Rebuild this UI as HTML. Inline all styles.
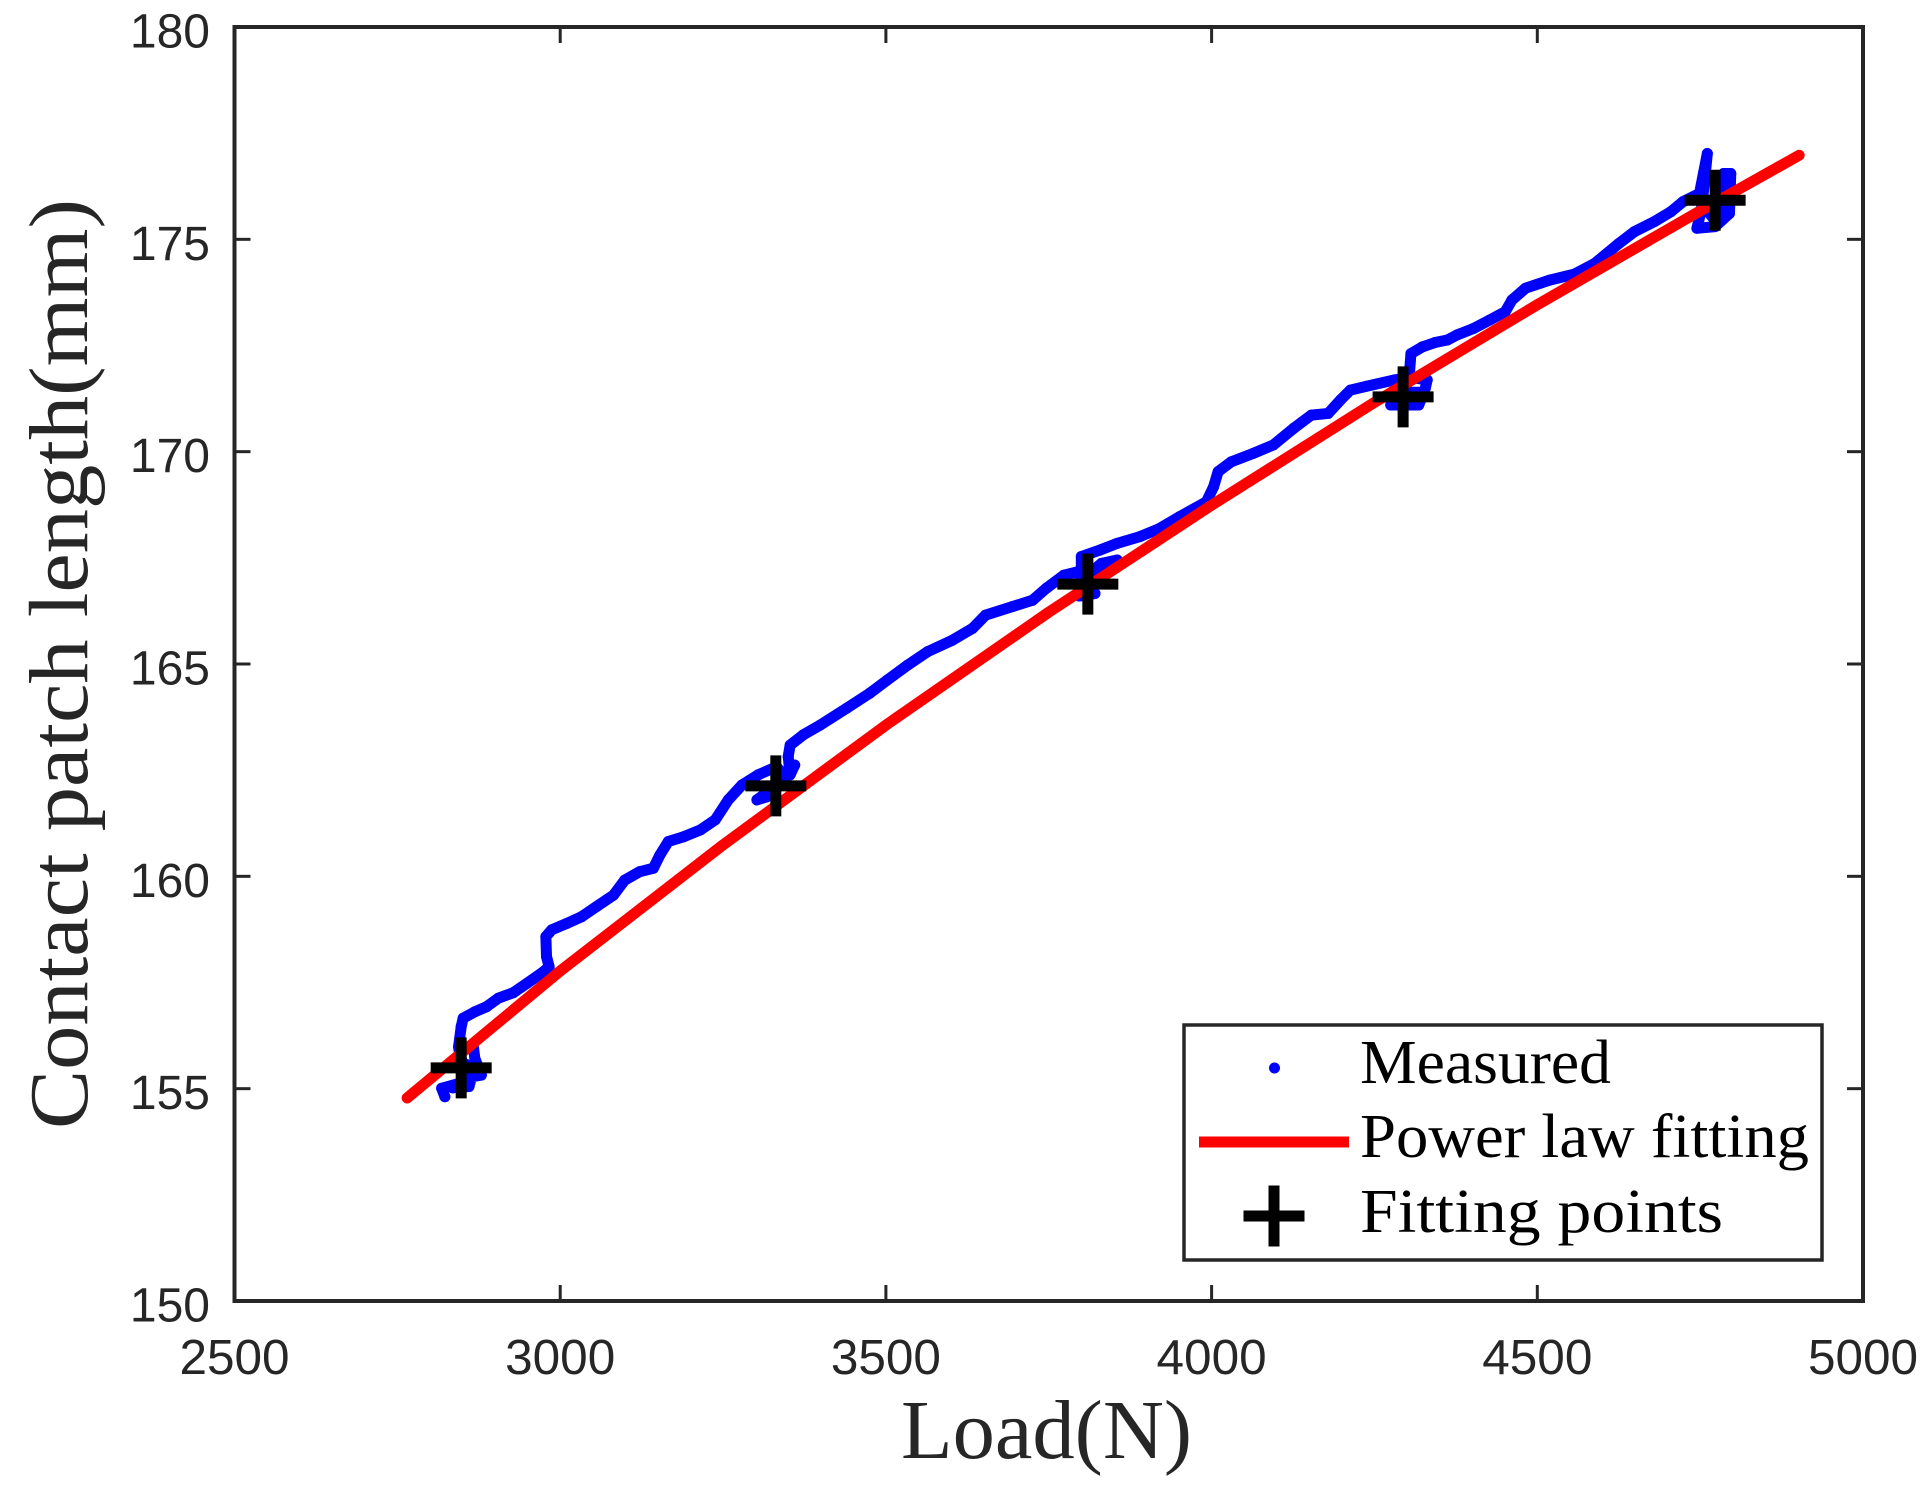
<!DOCTYPE html>
<html lang="en">
<head>
<meta charset="utf-8">
<title>Contact patch length vs load</title>
<style>
html,body{margin:0;padding:0;background:#fff;}
svg{display:block;}
.tick-label{font-family:"Liberation Sans",Arial,sans-serif;font-size:48px;fill:#262626;}
.x-tick-text{font-size:49.5px;}
.axis-title{font-family:"Liberation Serif",serif;font-size:84px;fill:#262626;}
.legend-text{font-family:"Liberation Serif",serif;font-size:62px;fill:#000;}
</style>
</head>
<body>
<svg id="chart" xmlns="http://www.w3.org/2000/svg" width="1932" height="1492" viewBox="0 0 1932 1492">
  <rect x="0" y="0" width="1932" height="1492" fill="#ffffff"/>
  <g id="marks"></g>
  <g id="axes">
    <rect x="234.5" y="27" width="1628.5" height="1274" fill="none" stroke="#262626" stroke-width="4"/>
  </g>
  <text class="axis-title" x="901" y="1458" textLength="291" lengthAdjust="spacingAndGlyphs">Load(N)</text>
  <text class="axis-title" transform="translate(87,1129) rotate(-90)" x="0" y="0" textLength="930" lengthAdjust="spacingAndGlyphs">Contact patch length(mm)</text>
  <g>
    <rect x="1184" y="1025" width="638" height="235" fill="#ffffff" stroke="#262626" stroke-width="3.5"/>
    <circle cx="1274.5" cy="1068" r="5.5" fill="#0000ff"/>
    <text class="legend-text" x="1360" y="1083" textLength="251" lengthAdjust="spacingAndGlyphs">Measured</text>
    <rect x="1199" y="1136.5" width="150" height="11" fill="#ff0000"/>
    <text class="legend-text" x="1360" y="1157" textLength="449" lengthAdjust="spacingAndGlyphs">Power law fitting</text>
    <path d="M1243.5 1216H1304.5M1274 1185.5V1246.5" stroke="#000000" stroke-width="11" fill="none"/>
    <text class="legend-text" x="1360" y="1232" textLength="363" lengthAdjust="spacingAndGlyphs">Fitting points</text>
  </g>
</svg>
<script>
const xTickValues = [2500, 3000, 3500, 4000, 4500, 5000];
const yTickValues = [150, 155, 160, 165, 170, 175, 180];

const measuredLoad = [2823,2818,2844,2835,2860,2864,2879,2869,2867,2844,2850,2870,2850,2844,2848,2851,2869,2887,2905,2928,2949,2974,2983,2979,2978,2987,3010,3033,3056,3082,3099,3122,3143,3153,3166,3189,3215,3238,3258,3279,3304,3332,3345,3320,3302,3317,3340,3360,3353,3350,3353,3373,3399,3440,3475,3502,3533,3564,3602,3633,3653,3694,3725,3746,3773,3794,3821,3797,3810,3831,3855,3831,3800,3800,3828,3855,3890,3920,3951,3992,4003,4010,4030,4064,4095,4126,4153,4179,4198,4213,4238,4281,4305,4331,4328,4318,4275,4285,4325,4290,4303,4306,4324,4343,4362,4377,4402,4427,4451,4461,4482,4519,4557,4588,4625,4649,4680,4705,4724,4749,4755,4761,4757,4752,4745,4773,4795,4797,4786,4782,4770,4749,4790,4790,4775];
const measuredLength = [154.81,155.01,155.12,155.02,155.05,155.28,155.32,155.71,155.95,155.99,155.30,155.50,155.60,155.99,156.46,156.66,156.81,156.93,157.13,157.26,157.48,157.75,157.87,158.11,158.58,158.74,158.89,159.05,159.29,159.56,159.91,160.11,160.19,160.50,160.82,160.93,161.09,161.33,161.80,162.15,162.39,162.58,162.35,162.0,161.80,161.87,162.19,162.62,162.39,162.82,163.09,163.33,163.56,163.96,164.31,164.62,164.97,165.29,165.56,165.84,166.15,166.35,166.50,166.78,167.09,167.17,166.66,166.60,167.1,167.37,167.45,167.20,167.20,167.53,167.68,167.84,168.00,168.19,168.47,168.82,169.17,169.53,169.76,169.96,170.16,170.55,170.86,170.90,171.22,171.45,171.54,171.69,171.75,171.69,171.49,171.10,171.10,171.40,171.40,171.30,171.69,172.31,172.47,172.57,172.63,172.75,172.90,173.10,173.30,173.57,173.85,174.04,174.18,174.43,174.90,175.18,175.42,175.65,175.89,176.08,176.55,177.02,176.40,175.70,175.26,175.30,175.61,176.55,176.55,175.50,175.50,175.90,175.75,176.30,176.30];

const fitLoad = [2765,3000,3250,3500,3750,4000,4250,4500,4750,4902];
const fitLength = [154.78,157.77,160.74,163.56,166.22,168.74,171.16,173.46,175.67,176.98];

const fitPointLoad = [2848,3331,3810,4294,4773];
const fitPointLength = [155.49,162.13,166.88,171.29,175.92];

const SVG_NS = 'http://www.w3.org/2000/svg';
const xDomain = [2500, 5000];
const yDomain = [150, 180];
const plot = {left: 234.5, right: 1863, top: 27, bottom: 1301};

function xScale(v) {
  return plot.left + (v - xDomain[0]) / (xDomain[1] - xDomain[0]) * (plot.right - plot.left);
}
function yScale(v) {
  return plot.bottom - (v - yDomain[0]) / (yDomain[1] - yDomain[0]) * (plot.bottom - plot.top);
}
function make(tag, attrs, parent) {
  const el = document.createElementNS(SVG_NS, tag);
  Object.keys(attrs).forEach(function (k) { el.setAttribute(k, attrs[k]); });
  parent.appendChild(el);
  return el;
}
function polyPoints(xs, ys) {
  return xs.map(function (x, i) { return xScale(x).toFixed(2) + ',' + yScale(ys[i]).toFixed(2); }).join(' ');
}

const marks = document.getElementById('marks');
const axes = document.getElementById('axes');

const measuredTrace = make('polyline', {points: polyPoints(measuredLoad, measuredLength), fill: 'none', stroke: '#0000ff', 'stroke-width': 11, 'stroke-linejoin': 'round', 'stroke-linecap': 'round'}, marks);



measuredLoad.forEach(function (x, i) {
  const dot = make('circle', {cx: xScale(x).toFixed(2), cy: yScale(measuredLength[i]).toFixed(2), r: 5.5, fill: '#0000ff'}, marks);
  
  
});

const fitLine = make('polyline', {points: polyPoints(fitLoad, fitLength), fill: 'none', stroke: '#ff0000', 'stroke-width': 11, 'stroke-linejoin': 'round', 'stroke-linecap': 'round'}, marks);



fitPointLoad.forEach(function (x, i) {
  const cx = xScale(x);
  const cy = yScale(fitPointLength[i]);
  const cross = make('path', {d: 'M' + (cx - 30.5) + ' ' + cy + 'H' + (cx + 30.5) + 'M' + cx + ' ' + (cy - 30.5) + 'V' + (cy + 30.5), stroke: '#000000', 'stroke-width': 11, fill: 'none'}, marks);
  
  
});

xTickValues.forEach(function (v) {
  const x = xScale(v);
  const bottomTick = make('line', {x1: x, x2: x, y1: plot.bottom, y2: plot.bottom - 16, stroke: '#262626', 'stroke-width': 3}, axes);
  
  
  const topTick = make('line', {x1: x, x2: x, y1: plot.top, y2: plot.top + 16, stroke: '#262626', 'stroke-width': 3}, axes);
  
  
  const label = make('text', {x: x, y: 1374, 'text-anchor': 'middle', 'class': 'tick-label x-tick-text'}, axes);
  
  
  label.textContent = String(v);
});

yTickValues.forEach(function (v) {
  const y = yScale(v);
  const leftTick = make('line', {x1: plot.left, x2: plot.left + 16, y1: y, y2: y, stroke: '#262626', 'stroke-width': 3}, axes);
  
  
  const rightTick = make('line', {x1: plot.right, x2: plot.right - 16, y1: y, y2: y, stroke: '#262626', 'stroke-width': 3}, axes);
  
  
  const label = make('text', {x: 210, y: y + 20.5, 'text-anchor': 'end', 'class': 'tick-label'}, axes);
  
  
  label.textContent = String(v);
});
</script>
</body>
</html>
